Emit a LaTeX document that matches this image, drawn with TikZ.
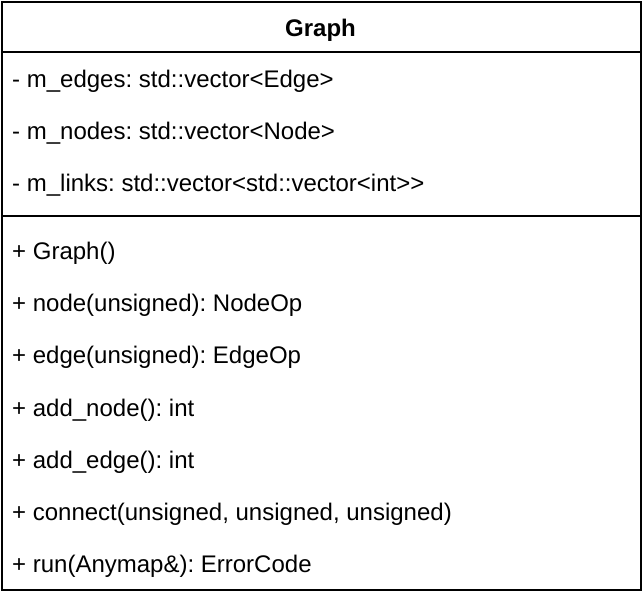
\documentclass[tikz,border=0pt]{standalone}
\usepackage{fontspec}
\setmainfont{Liberation Sans}
\begin{document}
\frenchspacing
\begin{tikzpicture}[x=1pt,y=-1pt,
  member/.style={anchor=west,inner sep=0pt,font=\fontsize{24}{28}\selectfont},
  title/.style={inner sep=0pt,font=\fontsize{24}{28}\selectfont\bfseries},
  frame/.style={line width=2pt}]
\useasboundingbox (0,0) rectangle (642,596);
\node[draw,frame,minimum width=639pt,minimum height=588pt,anchor=north west,inner sep=0pt] (box) at (1,1) {};
\coordinate (h1) at (1,52);
\coordinate (h2) at (640,52);
\coordinate (s1) at (1,216);
\coordinate (s2) at (640,216);
\draw[frame] (h1) -- (h2);
\draw[frame] (s1) -- (s2);
\node[title] (name) at (320.5,30) {Graph};
\node[member] (a1) at (12,81.5) {- m\_edges: std::vector<Edge>};
\node[member] (a2) at (12,133.5) {- m\_nodes: std::vector<Node>};
\node[member] (a3) at (12,185.5) {- m\_links: std::vector<std::vector<int>{}>};
\node[member] (m1) at (12,253.5) {+ Graph()};
\node[member] (m2) at (12,305.5) {+ node(unsigned): NodeOp};
\node[member] (m3) at (12,357.5) {+ edge(unsigned): EdgeOp};
\node[member] (m4) at (12,410.5) {+ add\_node(): int};
\node[member] (m5) at (12,462.5) {+ add\_edge(): int};
\node[member] (m6) at (12,514.5) {+ connect(unsigned, unsigned, unsigned)};
\node[member] (m7) at (12,566.5) {+ run(Anymap\&): ErrorCode};
\end{tikzpicture}
\end{document}
